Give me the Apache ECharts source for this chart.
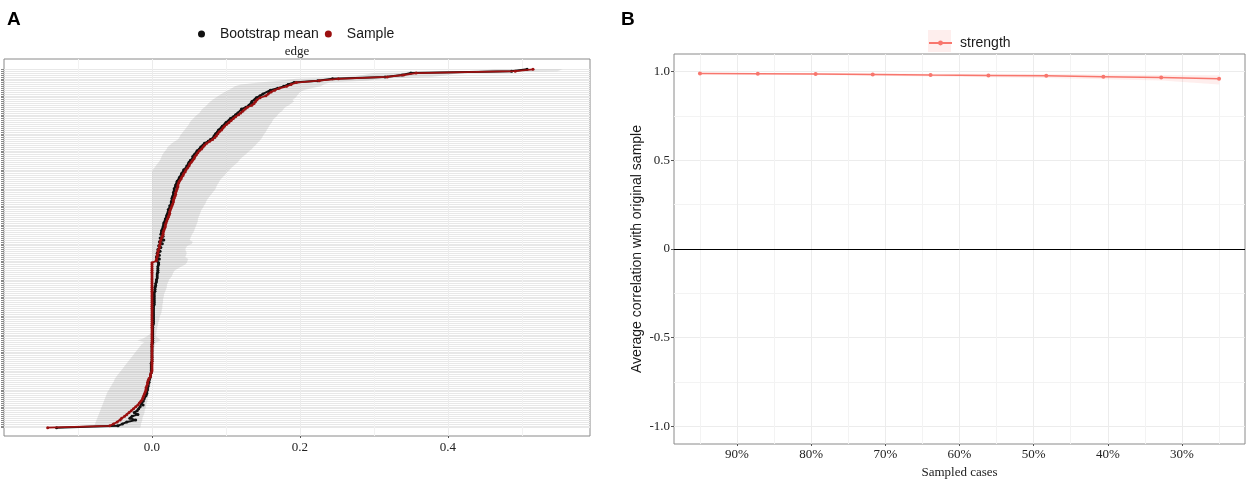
<!DOCTYPE html>
<html>
<head>
<meta charset="utf-8">
<script src="https://cdn.jsdelivr.net/npm/echarts@6/dist/echarts.min.js"></script>
<style>
html,body{margin:0;padding:0;background:#fff}
#chart{width:1248px;height:487px}
</style>
</head>
<body>
<div id="chart"></div>
<script>
// panel A: edge weights, sorted from largest (top) to smallest (bottom)
const edgeSample = [
  0.515, 0.491, 0.357, 0.340, 0.318, 0.252, 0.226, 0.195,
  0.188, 0.182,
  0.172, 0.166, 0.161, 0.157, 0.154, 0.146, 0.142, 0.140, 0.138, 0.135,
  0.129, 0.126, 0.123, 0.120, 0.117, 0.113, 0.110, 0.107, 0.104, 0.101,
  0.098, 0.096, 0.094, 0.091, 0.089, 0.087, 0.085, 0.082, 0.078, 0.074,
  0.071, 0.069, 0.067, 0.064, 0.062, 0.060, 0.058, 0.057, 0.055, 0.053,
  0.051, 0.050, 0.048, 0.046, 0.045, 0.043, 0.042, 0.040, 0.039, 0.037,
  0.036, 0.035, 0.035, 0.034, 0.033, 0.032, 0.032, 0.031, 0.030, 0.029,
  0.029, 0.028, 0.027, 0.026, 0.025, 0.024, 0.024, 0.023, 0.022, 0.021,
  0.020, 0.019, 0.018, 0.018, 0.017, 0.016, 0.015, 0.015, 0.014, 0.013,
  0.012, 0.011, 0.011, 0.010, 0.010,
  0.009, 0.008, 0.008, 0.007, 0.007, 0.006, 0.006,
  0, 0, 0, 0, 0, 0, 0, 0, 0, 0,
  0, 0, 0, 0, 0, 0, 0, 0, 0, 0,
  0, 0, 0, 0, 0, 0, 0, 0, 0, 0,
  0, 0, 0, 0, 0, 0, 0, 0, 0, 0,
  0, 0, 0, 0, 0, 0, 0, 0, 0, 0,
  0, 0, 0, 0, 0, 0, 0, 0,
  -0.001, -0.002, -0.002, -0.004, -0.005, -0.006, -0.006, -0.007, -0.008, -0.008,
  -0.009, -0.010, -0.011, -0.012, -0.013, -0.015, -0.017, -0.019, -0.022, -0.025,
  -0.028, -0.031, -0.034, -0.037, -0.041, -0.043, -0.047, -0.052, -0.057, -0.141
];
const edgeBootMean = [
  0.507, 0.486, 0.350, 0.338, 0.315, 0.244, 0.224, 0.192,
  0.184, 0.178,
  0.170, 0.160, 0.158, 0.150, 0.146, 0.141, 0.139, 0.135, 0.136, 0.131,
  0.127, 0.121, 0.122, 0.116, 0.113, 0.110, 0.106, 0.105, 0.100, 0.099,
  0.095, 0.094, 0.090, 0.089, 0.086, 0.084, 0.083, 0.079, 0.076, 0.071,
  0.069, 0.066, 0.065, 0.061, 0.060, 0.057, 0.055, 0.055, 0.052, 0.050,
  0.049, 0.047, 0.046, 0.043, 0.043, 0.040, 0.040, 0.037, 0.037, 0.034,
  0.034, 0.032, 0.033, 0.030, 0.031, 0.029, 0.030, 0.028, 0.027, 0.027,
  0.026, 0.026, 0.024, 0.024, 0.022, 0.022, 0.021, 0.020, 0.020, 0.018,
  0.018, 0.016, 0.016, 0.015, 0.015, 0.013, 0.013, 0.012, 0.015, 0.011,
  0.016, 0.010, 0.014, 0.009, 0.012,
  0.008, 0.011, 0.007, 0.010, 0.006, 0.010, 0.006,
  0.009, 0.009, 0.008, 0.008, 0.008, 0.008, 0.007, 0.007, 0.007, 0.006,
  0.006, 0.005, 0.005, 0.004, 0.004, 0.004, 0.003, 0.003,
  0.003, 0.003, 0.003, 0.003, 0.003, 0.002, 0.002, 0.002, 0.002, 0.002,
  0.002, 0.002, 0.002, 0.002, 0.002, 0.001, 0.001, 0.001, 0.001, 0.001,
  0.001, 0.001, 0.001, 0.001, 0.001, 0, 0, 0, 0, 0,
  0, 0, 0, 0, 0, -0.001, -0.001, -0.001, -0.001, -0.001,
  -0.001, -0.002, -0.002, -0.003, -0.004, -0.004, -0.005, -0.005, -0.006, -0.006,
  -0.007, -0.007, -0.008, -0.010, -0.011, -0.012, -0.014, -0.012, -0.016, -0.018,
  -0.020, -0.024, -0.019, -0.027, -0.030, -0.022, -0.034, -0.040, -0.046, -0.129
];
const edgeCiLower = [
  0.462, 0.440, 0.300, 0.285, 0.262, 0.195, 0.172, 0.145,
  0.120, 0.112,
  0.108, 0.103, 0.098, 0.094, 0.090, 0.086, 0.082, 0.079, 0.076, 0.074,
  0.071, 0.068, 0.066, 0.064, 0.061, 0.058, 0.056, 0.053, 0.051, 0.050,
  0.048, 0.046, 0.044, 0.042, 0.040, 0.038, 0.037, 0.035, 0.031, 0.027,
  0.024, 0.021, 0.020, 0.018, 0.016, 0.014, 0.013, 0.012, 0.011, 0.009,
  0.007, 0.005, 0.003, 0.001, 0.000,
  0, 0, 0, 0, 0, 0, 0, 0, 0, 0,
  0, 0, 0, 0, 0, 0, 0, 0, 0, 0,
  0, 0, 0, 0, 0, 0, 0, 0, 0, 0,
  0, 0, 0, 0, 0, 0, 0, 0, 0, 0,
  0, 0, 0, 0, 0, 0, 0, 0, 0, 0,
  0, 0, 0, 0, 0, 0, 0, 0, 0, 0,
  0, 0, 0, 0, 0, 0, 0, 0, 0, 0,
  0, 0, 0, 0, 0, 0, 0, 0, 0, 0,
  0, 0, 0, 0, 0,
  -0.004, -0.008, -0.012, -0.020, -0.010, -0.014,
  -0.016, -0.018, -0.020, -0.022, -0.024, -0.026, -0.028, -0.030, -0.032, -0.034,
  -0.036, -0.038, -0.040, -0.042, -0.044, -0.046, -0.048, -0.050, -0.051, -0.052,
  -0.054, -0.055, -0.057, -0.058, -0.060, -0.061, -0.062, -0.063, -0.064, -0.065,
  -0.066, -0.067, -0.068, -0.069, -0.070, -0.071, -0.072, -0.073, -0.074, -0.075,
  -0.076, -0.077, -0.078, -0.078
];
const edgeCiUpper = [
  0.555, 0.548, 0.415, 0.400, 0.378, 0.310, 0.290, 0.240,
  0.232, 0.228,
  0.215, 0.205, 0.200, 0.198, 0.196, 0.194, 0.190, 0.192, 0.188, 0.185,
  0.180, 0.178, 0.176, 0.172, 0.170, 0.168, 0.165, 0.163, 0.162, 0.160,
  0.158, 0.157, 0.155, 0.154, 0.152, 0.150, 0.149, 0.147, 0.145, 0.142,
  0.140, 0.137, 0.135, 0.132, 0.129, 0.126, 0.123, 0.120, 0.118, 0.116,
  0.113, 0.110, 0.107, 0.105, 0.102, 0.100, 0.098, 0.095, 0.093, 0.091,
  0.090, 0.088, 0.087, 0.086, 0.084, 0.082, 0.080, 0.078, 0.076, 0.074,
  0.073, 0.072, 0.070, 0.069, 0.067, 0.066, 0.065, 0.064, 0.063, 0.062,
  0.062, 0.061, 0.060, 0.059, 0.058, 0.057, 0.056, 0.054, 0.053, 0.052,
  0.051, 0.055, 0.054, 0.048, 0.046, 0.045, 0.046, 0.047, 0.046, 0.045,
  0.049, 0.048, 0.047, 0.045, 0.040, 0.035, 0.031, 0.029, 0.028, 0.027,
  0.025, 0.023, 0.022, 0.021, 0.020, 0.020, 0.019, 0.018, 0.017, 0.016,
  0.016, 0.015, 0.015, 0.015, 0.014, 0.014, 0.014, 0.013, 0.013, 0.012,
  0.011, 0.010, 0.010, 0.009, 0.008, 0.008, 0.007, 0.007, 0.006, 0.006,
  0.005, 0.006, 0.009, 0.012, 0.006, 0.004, 0.004, 0.003, 0.003, 0.003,
  0.002, 0.002, 0.002, 0.001, 0.001, 0.001, 0.001, 0, 0, 0,
  0, 0, 0, -0.001, -0.001, -0.001, -0.002, -0.002, -0.003, -0.003,
  -0.004, -0.004, -0.005, -0.005, -0.006, -0.006, -0.007, -0.008, -0.008, -0.009,
  -0.010, -0.010, -0.011, -0.012, -0.013, -0.013, -0.014, -0.015, -0.015, -0.016
];
const edgeTicks = [0, 0.2, 0.4];
const edgeMinorTicks = [-0.1, 0.1, 0.3, 0.5];

// panel B: case-dropping stability of strength
const sampledCases = [95.0, 87.2, 79.4, 71.7, 63.9, 56.1, 48.3, 40.6, 32.8, 25.0];
const strengthCor = [0.990, 0.989, 0.987, 0.985, 0.981, 0.979, 0.977, 0.972, 0.968, 0.960];
const strengthLower = [0.986, 0.984, 0.981, 0.978, 0.973, 0.969, 0.965, 0.958, 0.950, 0.928];
const strengthUpper = [0.994, 0.993, 0.992, 0.991, 0.989, 0.988, 0.987, 0.984, 0.982, 0.980];
const caseTicks = [90, 80, 70, 60, 50, 40, 30];
const caseMinorTicks = [95, 85, 75, 65, 55, 45, 35, 25];
const corTicks = [-1, -0.5, 0, 0.5, 1];
const corMinorTicks = [-0.75, -0.25, 0.25, 0.75];

const SANS = 'Liberation Sans';
const SERIF = 'Liberation Serif';
const rowIds = edgeSample.map((_, i) => i);

var myChart = echarts.init(document.getElementById('chart'));

function tickText(size) {
    return { fontFamily: SERIF, fontSize: size, color: '#222' };
}
const noLine = { show: false, onZero: false };

let option = {
    animation: false,
    textStyle: { fontFamily: SANS },
    graphic: [
        { type: 'text', x: 7, y: 20, style: { text: 'A', font: 'bold 19px "Liberation Sans"', fill: '#000', textVerticalAlign: 'middle' } },
        { type: 'text', x: 621, y: 20, style: { text: 'B', font: 'bold 19px "Liberation Sans"', fill: '#000', textVerticalAlign: 'middle' } },
        { type: 'text', x: 297, y: 52, style: { text: 'edge', font: '13px "Liberation Serif"', fill: '#222', textAlign: 'center', textVerticalAlign: 'middle' } },
        { type: 'rect', shape: { x: 928, y: 30, width: 23, height: 22 }, style: { fill: 'rgba(248,118,109,0.12)' }, z: 0 }
    ],
    legend: [
        {
            data: [{ name: 'Bootstrap mean', icon: 'circle' }, { name: 'Sample', icon: 'circle' }],
            left: 193, top: 22, itemWidth: 7, itemHeight: 7, itemGap: 6,
            selectedMode: false,
            textStyle: { fontFamily: SANS, fontSize: 14, color: '#1a1a1a', padding: [0, 0, 0, 10] }
        },
        {
            data: ['strength'],
            left: 923, top: 31, itemWidth: 23, itemHeight: 6,
            selectedMode: false,
            textStyle: { fontFamily: SANS, fontSize: 14, color: '#1a1a1a', padding: [0, 0, 0, 3] }
        }
    ],
    grid: [
        { left: 4, top: 59, width: 586, height: 377, show: true, borderColor: '#8a8a8a', borderWidth: 1, backgroundColor: '#fff' },
        { left: 674, top: 54, width: 571, height: 390, show: true, borderColor: '#8a8a8a', borderWidth: 1, backgroundColor: '#fff' }
    ],
    xAxis: [
        {
            gridIndex: 0, type: 'value', min: -0.2, max: 0.592,
            axisLine: noLine,
            axisTick: { customValues: edgeTicks, length: 2, lineStyle: { color: '#555' } },
            axisLabel: { customValues: edgeTicks, formatter: v => v.toFixed(1), margin: 5, ...tickText(13) },
            splitLine: { show: true, lineStyle: { color: '#ececec' } }
        },
        {
            gridIndex: 0, type: 'value', min: -0.2, max: 0.592, position: 'top',
            axisLine: noLine,
            axisTick: { show: false, customValues: edgeMinorTicks },
            axisLabel: { show: false },
            splitLine: { show: true, lineStyle: { color: '#f2f2f2' } }
        },
        {
            gridIndex: 1, type: 'value', min: 21.5, max: 98.5, inverse: true,
            axisLine: noLine,
            axisTick: { customValues: caseTicks, length: 2, lineStyle: { color: '#555' } },
            axisLabel: { customValues: caseTicks, formatter: v => v + '%', margin: 4, ...tickText(13) },
            splitLine: { show: true, lineStyle: { color: '#ececec' } },
            name: 'Sampled cases', nameLocation: 'middle', nameGap: 22,
            nameTextStyle: { fontFamily: SERIF, fontSize: 13, color: '#222' }
        },
        {
            gridIndex: 1, type: 'value', min: 21.5, max: 98.5, inverse: true, position: 'top',
            axisLine: noLine,
            axisTick: { show: false, customValues: caseMinorTicks },
            axisLabel: { show: false },
            splitLine: { show: true, lineStyle: { color: '#f3f3f3' } }
        }
    ],
    yAxis: [
        {
            gridIndex: 0, type: 'value', inverse: true, min: -5.43, max: 193.38,
            axisLine: noLine,
            axisTick: { customValues: rowIds, length: 3, lineStyle: { color: '#888' } },
            axisLabel: { show: false, customValues: rowIds },
            splitLine: { show: true, lineStyle: { color: '#e8e8e8' } }
        },
        {
            gridIndex: 1, type: 'value', min: -1.1, max: 1.1,
            axisLine: noLine,
            axisTick: { customValues: corTicks, length: 3, lineStyle: { color: '#555' } },
            axisLabel: {
                customValues: corTicks, margin: 4, ...tickText(13),
                formatter: v => (v === 0 ? '0' : v.toFixed(1))
            },
            splitLine: { show: true, lineStyle: { color: '#ececec' } },
            name: 'Average correlation with original sample', nameLocation: 'middle', nameGap: 30,
            nameTextStyle: { fontFamily: SANS, fontSize: 14, color: '#1a1a1a' }
        },
        {
            gridIndex: 1, type: 'value', min: -1.1, max: 1.1, position: 'right',
            axisLine: noLine,
            axisTick: { show: false, customValues: corMinorTicks },
            axisLabel: { show: false },
            splitLine: { show: true, lineStyle: { color: '#f3f3f3' } }
        }
    ],
    series: [
        {
            // bootstrap CI ribbon
            type: 'custom', xAxisIndex: 0, yAxisIndex: 0, silent: true, clip: true,
            data: [[0, 0]],
            renderItem(params, api) {
                const pts = [];
                for (let i = 0; i < edgeCiLower.length; i++) pts.push(api.coord([edgeCiLower[i], i]));
                for (let i = edgeCiUpper.length - 1; i >= 0; i--) pts.push(api.coord([edgeCiUpper[i], i]));
                return { type: 'polygon', shape: { points: pts }, style: { fill: 'rgba(160,160,160,0.25)' } };
            },
            z: 1
        },
        {
            name: 'Bootstrap mean', type: 'line', xAxisIndex: 0, yAxisIndex: 0,
            data: edgeBootMean.map((v, i) => [v, i]),
            color: '#111', symbol: 'circle', symbolSize: 3, showSymbol: true,
            lineStyle: { width: 2, color: '#111' }, itemStyle: { color: '#111' },
            silent: true, z: 2
        },
        {
            name: 'Sample', type: 'line', xAxisIndex: 0, yAxisIndex: 0,
            data: edgeSample.map((v, i) => [v, i]),
            color: '#9b1010', symbol: 'circle', symbolSize: 3, showSymbol: true,
            lineStyle: { width: 1.8, color: '#9b1010' }, itemStyle: { color: '#9b1010' },
            silent: true, z: 3
        },
        {
            type: 'custom', xAxisIndex: 2, yAxisIndex: 1, silent: true, clip: true,
            data: [[60, 0]],
            renderItem(params, api) {
                const pts = [];
                for (let i = 0; i < sampledCases.length; i++) pts.push(api.coord([sampledCases[i], strengthLower[i]]));
                for (let i = sampledCases.length - 1; i >= 0; i--) pts.push(api.coord([sampledCases[i], strengthUpper[i]]));
                return { type: 'polygon', shape: { points: pts }, style: { fill: 'rgba(248,118,109,0.12)' } };
            },
            z: 1
        },
        {
            name: 'strength', type: 'line', xAxisIndex: 2, yAxisIndex: 1,
            data: sampledCases.map((c, i) => [c, strengthCor[i]]),
            color: '#F8766D', symbol: 'circle', symbolSize: 4, showSymbol: true,
            lineStyle: { width: 1.5, color: '#F8766D' }, itemStyle: { color: '#F8766D' },
            silent: true, z: 3,
            markLine: {
                silent: true, symbol: ['none', 'none'], label: { show: false },
                lineStyle: { color: '#000', width: 1, type: 'solid' },
                data: [{ yAxis: 0 }]
            }
        }
    ]
};
myChart.setOption(option);
</script>
</body>
</html>
